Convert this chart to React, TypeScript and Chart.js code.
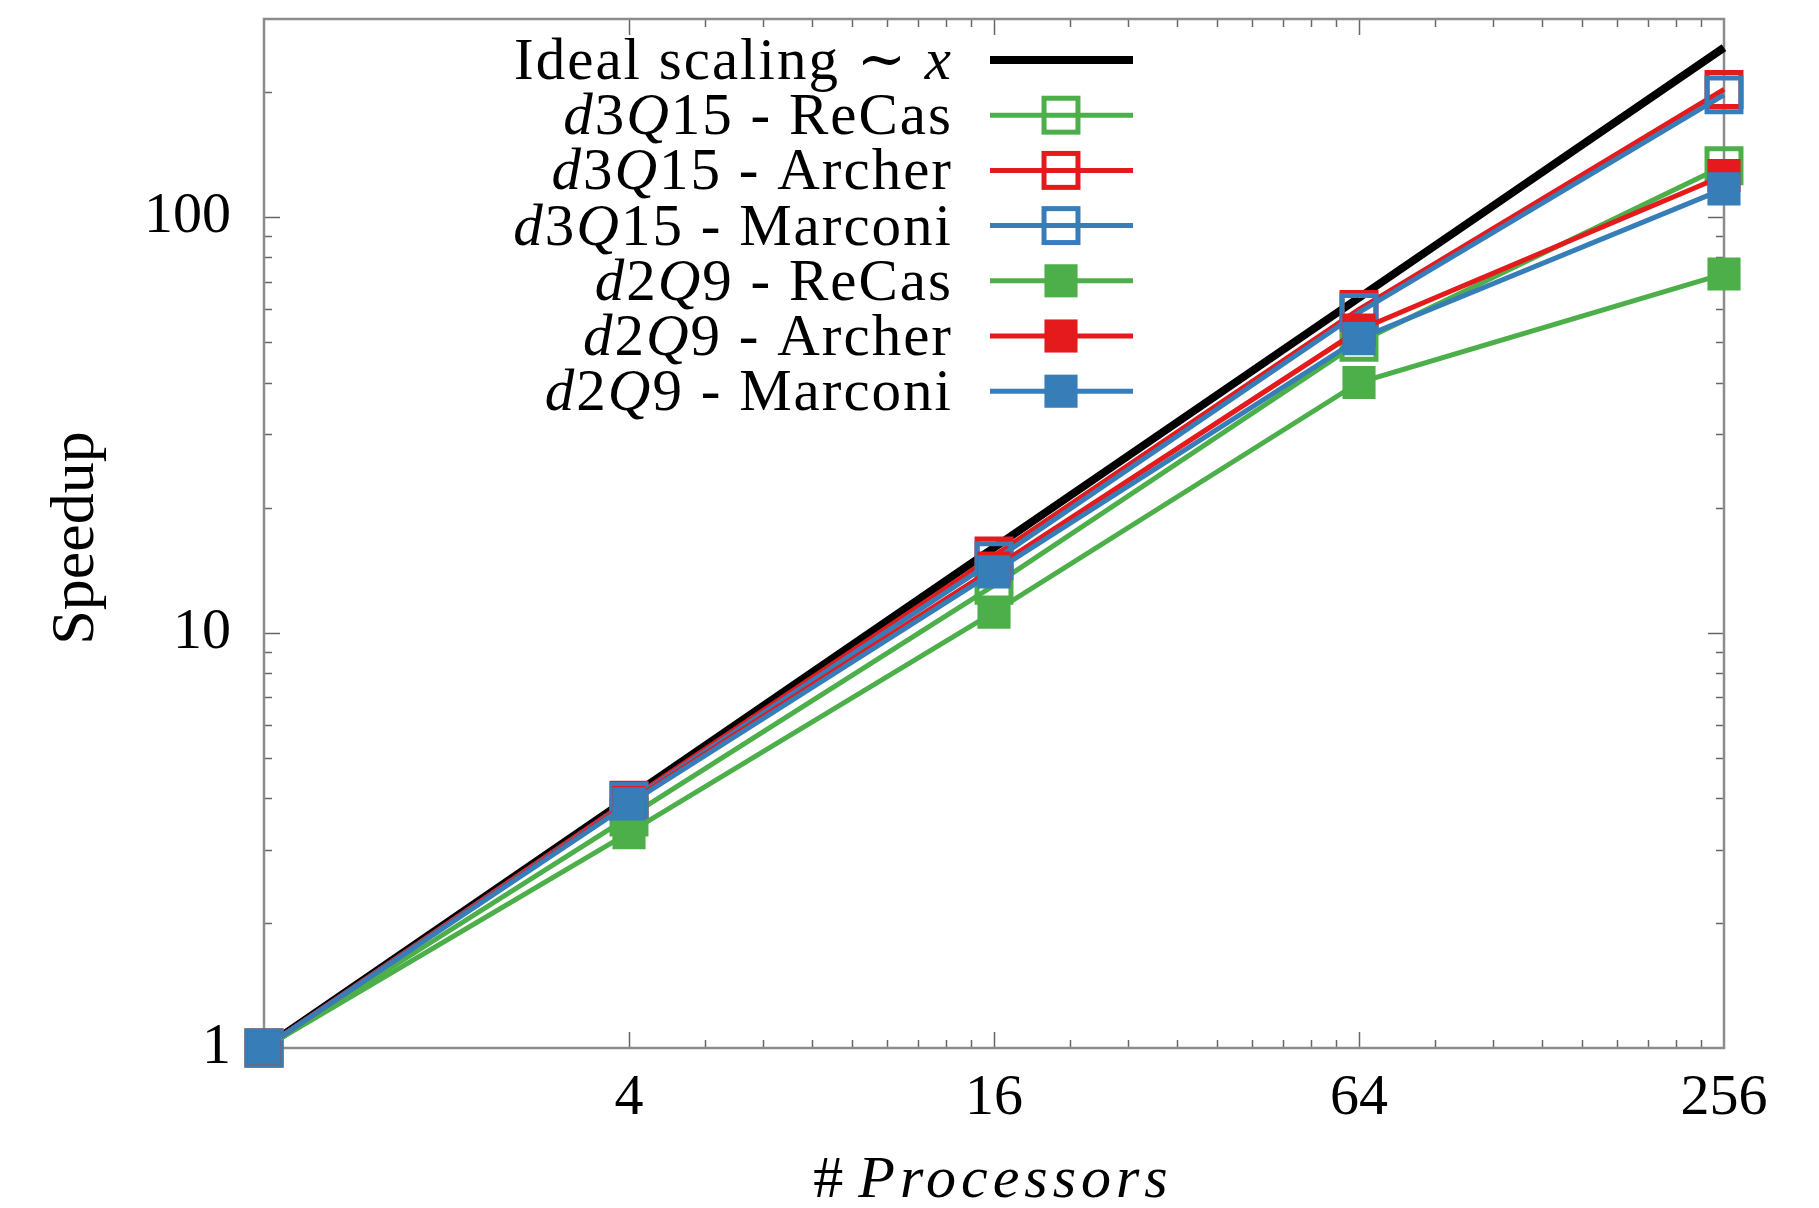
import React, { useEffect, useRef } from "react";
import { Chart, registerables } from "chart.js";

Chart.register(...registerables);

// ---------- data ----------
const processors = [1, 4, 16, 64, 256];
const idealScaling = [1, 4, 16, 64, 256];
const d3q15ReCas = [1, 3.6, 13, 50, 133];
const d3q15Archer = [1, 3.95, 15.3, 60, 203];
const d3q15Marconi = [1, 3.92, 14.9, 59, 197];
const d2q9ReCas = [1, 3.3, 11.2, 40, 73];
const d2q9Archer = [1, 3.9, 14.3, 53.5, 126];
const d2q9Marconi = [1, 3.87, 14, 51, 117];

const xTickLabels = [4, 16, 64, 256];
const yTickLabels = [1, 10, 100];

// $...$ marks italic (math) parts
const seriesLabels = [
  "Ideal scaling \u223C $x$",
  "$d$3$Q$15 - ReCas",
  "$d$3$Q$15 - Archer",
  "$d$3$Q$15 - Marconi",
  "$d$2$Q$9 - ReCas",
  "$d$2$Q$9 - Archer",
  "$d$2$Q$9 - Marconi",
];
const xTitle = "# $Processors$";
const yTitle = "Speedup";

// ---------- styles ----------
const GREEN = "#4daf4a";
const RED = "#e41a1c";
const BLUE = "#377eb8";
const FONT = '"Liberation Serif", "DejaVu Serif", serif';

const seriesValues = [d3q15ReCas, d3q15Archer, d3q15Marconi, d2q9ReCas, d2q9Archer, d2q9Marconi];
const seriesColors = [GREEN, RED, BLUE, GREEN, RED, BLUE];
const seriesFilled = [false, false, false, true, true, true];

function toPoints(vals: number[]) {
  return processors.map((x, i) => ({ x, y: vals[i] }));
}

function parseSegments(text: string) {
  const parts = text.split("$");
  return parts.map((t, i) => ({ t, italic: i % 2 === 1 })).filter((s) => s.t.length > 0);
}

function drawSegments(
  ctx: CanvasRenderingContext2D,
  text: string,
  x: number,
  y: number,
  size: number,
  align: "right" | "center",
  italicSpacing = 0,
  spacing = 0
) {
  const segs = parseSegments(text);
  const setFont = (s: { italic: boolean }) => {
    ctx.font = `${s.italic ? "italic " : ""}${size}px ${FONT}`;
    const sp = s.italic && italicSpacing ? italicSpacing : spacing;
    (ctx as any).letterSpacing = `${sp}px`;
  };
  const widths = segs.map((s) => {
    setFont(s);
    return ctx.measureText(s.t).width;
  });
  const total = widths.reduce((a, b) => a + b, 0);
  let cx = align === "right" ? x - total : x - total / 2;
  ctx.textAlign = "left";
  ctx.textBaseline = "alphabetic";
  segs.forEach((s, i) => {
    setFont(s);
    ctx.fillText(s.t, cx, y);
    cx += widths[i];
  });
  (ctx as any).letterSpacing = "0px";
}

const framePlugin = {
  id: "gnuplotFrame",
  beforeDatasetsDraw(chart: any) {
    const { ctx, chartArea } = chart;
    const { left, right, top, bottom } = chartArea;
    const xs = chart.scales.x;
    const ys = chart.scales.y;
    ctx.save();
    ctx.strokeStyle = "#666666";
    ctx.lineWidth = 1.5;
    const yMajor = [10, 100];
    const yMinor: number[] = [];
    [1, 10, 100].forEach((d) => {
      for (let k = 2; k <= 9; k++) if (d * k < 300) yMinor.push(d * k);
    });
    const xMajor = [4, 16, 64];
    const xMinor: number[] = [];
    [4, 16, 64].forEach((a) => {
      for (let k = 1; k <= 8; k++) xMinor.push(a + (k * a) / 3);
    });
    const seg = (x1: number, y1: number, x2: number, y2: number) => {
      ctx.beginPath();
      ctx.moveTo(x1, y1);
      ctx.lineTo(x2, y2);
      ctx.stroke();
    };
    yMajor.concat(yMinor).forEach((v) => {
      const py = Math.round(ys.getPixelForValue(v)) + 0.5;
      const len = yMajor.includes(v) ? 16 : 8;
      seg(left, py, left + len, py);
      seg(right, py, right - len, py);
    });
    xMajor.concat(xMinor).forEach((v) => {
      const px = Math.round(xs.getPixelForValue(v)) + 0.5;
      const len = xMajor.includes(v) ? 16 : 8;
      seg(px, bottom, px, bottom - len);
      seg(px, top, px, top + len);
    });
    ctx.strokeStyle = "#8c8c8c";
    ctx.lineWidth = 2.5;
    ctx.strokeRect(left, top, right - left, bottom - top);
    ctx.restore();
  },
  afterDraw(chart: any) {
    const { ctx } = chart;
    ctx.save();
    const textRight = 953;
    const sampleL = 990;
    const sampleR = 1133;
    const markX = 1061;
    const row0 = 60;
    const rowStep = 55.2;
    chart.data.datasets.forEach((ds: any, i: number) => {
      const y = row0 + i * rowStep;
      ctx.fillStyle = "#000";
      drawSegments(ctx, ds.label, textRight, y + 19, 59, "right", 2, 2);
      ctx.strokeStyle = ds.borderColor;
      ctx.lineWidth = ds.borderWidth;
      ctx.beginPath();
      ctx.moveTo(sampleL, y);
      ctx.lineTo(sampleR, y);
      ctx.stroke();
      if (ds.pointRadius > 0) {
        const side = ds.pointRadius * Math.SQRT2;
        if (ds.filled) {
          ctx.fillStyle = ds.borderColor;
          ctx.fillRect(markX - side / 2 - 1, y - side / 2 - 1, side + 2, side + 2);
        } else {
          ctx.lineWidth = ds.pointBorderWidth;
          ctx.strokeRect(markX - side / 2, y - side / 2, side, side);
        }
      }
    });
    ctx.fillStyle = "#000";
    drawSegments(ctx, xTitle, 993, 1197, 60, "center", 5, 0);
    ctx.translate(93, 538);
    ctx.rotate(-Math.PI / 2);
    drawSegments(ctx, yTitle, 0, 0, 62, "center");
    ctx.restore();
  },
};

export default function App() {
  const ref = useRef<HTMLCanvasElement | null>(null);

  useEffect(() => {
    if (!ref.current) return;
    const datasets: any[] = [
      {
        label: seriesLabels[0],
        data: toPoints(idealScaling),
        borderColor: "#000000",
        backgroundColor: "#000000",
        borderWidth: 8,
        pointRadius: 0,
        pointBorderWidth: 0,
        order: 7,
        clip: false,
        filled: false,
      },
    ];
    seriesValues.forEach((vals, i) => {
      const filled = seriesFilled[i];
      const r = filled ? 22 : 24;
      datasets.push({
        label: seriesLabels[i + 1],
        data: toPoints(vals),
        borderColor: seriesColors[i],
        backgroundColor: filled ? seriesColors[i] : "rgba(0,0,0,0)",
        borderWidth: 5,
        pointStyle: "rect",
        pointRadius: r,
        pointHoverRadius: r,
        pointBorderWidth: filled ? 2 : 5,
        pointBorderColor: seriesColors[i],
        pointBackgroundColor: filled ? seriesColors[i] : "rgba(0,0,0,0)",
        order: 6 - i,
        clip: false,
        filled,
      });
    });

    const tickFont = { family: FONT, size: 58 };
    const chart = new Chart(ref.current, {
      type: "line",
      data: { datasets },
      options: {
        animation: false,
        responsive: false,
        maintainAspectRatio: false,
        events: [],
        layout: { autoPadding: false, padding: { top: 19, right: 95, left: 0, bottom: 0 } },
        elements: { line: { tension: 0 } },
        plugins: {
          legend: { display: false },
          tooltip: { enabled: false },
          title: { display: false },
        },
        scales: {
          x: {
            type: "logarithmic",
            min: 1,
            max: 256,
            grid: { display: false, drawTicks: false },
            border: { display: false },
            afterBuildTicks: (s: any) => {
              s.ticks = xTickLabels.map((v) => ({ value: v }));
            },
            afterFit: (s: any) => {
              s.height = 160;
              s.paddingLeft = 0;
              s.paddingRight = 0;
            },
            ticks: {
              padding: 16,
              color: "#000",
              font: tickFont,
              maxRotation: 0,
              minRotation: 0,
              autoSkip: false,
              callback: (v: any) => String(v),
            },
          },
          y: {
            type: "logarithmic",
            min: 1,
            max: 300,
            grid: { display: false, drawTicks: false },
            border: { display: false },
            afterBuildTicks: (s: any) => {
              s.ticks = yTickLabels.map((v) => ({ value: v }));
            },
            afterFit: (s: any) => {
              s.width = 264;
              s.paddingTop = 0;
              s.paddingBottom = 0;
            },
            ticks: {
              padding: 33,
              color: "#000",
              font: tickFont,
              autoSkip: false,
              callback: (v: any) => String(v),
            },
          },
        },
      } as any,
      plugins: [framePlugin],
    });
    return () => chart.destroy();
  }, []);

  return (
    <div style={{ position: "absolute", left: 0, top: 0, width: 1819, height: 1208, background: "#fff" }}>
      <canvas ref={ref} width={1819} height={1208} style={{ display: "block", width: 1819, height: 1208 }} />
    </div>
  );
}
